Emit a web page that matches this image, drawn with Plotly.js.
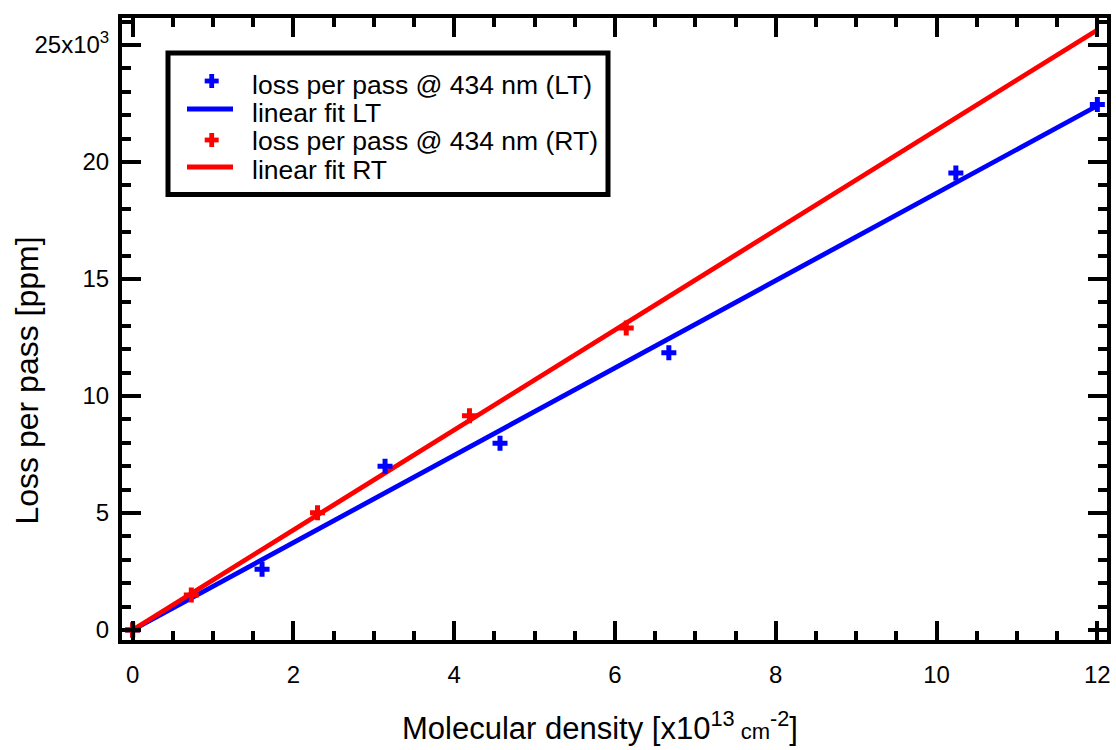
<!DOCTYPE html>
<html><head><meta charset="utf-8">
<script src="https://cdn.plot.ly/plotly-3.0.1.min.js"></script>
<style>html,body{margin:0;padding:0;background:#fff}#chart{width:1116px;height:750px}</style>
</head><body><div id="chart"></div>
<script>
// ---- data (loss in ppm, density in 1e13 cm^-2) ----
const ltDensity = [0, 1.61, 3.14, 4.57, 6.67, 10.24, 12.0];
const ltLoss    = [0, 2600, 7000, 7980, 11850, 19530, 22450];
const rtDensity = [0, 0.73, 2.30, 4.19, 6.14];
const rtLoss    = [0, 1500, 5010, 9150, 12900];
const fitDensity = [0, 12];
const fitLT = [0, 22400];
const fitRT = [0, 25640];
const yTickVals = [0, 5000, 10000, 15000, 20000, 25000];
const yTickText = ['0', '5', '10', '15', '20', '25x10<sup>3</sup>'];
const xTickVals = [0, 2, 4, 6, 8, 10, 12];
const xTickText = ['0', '2', '4', '6', '8', '10', '12'];
const legendLabels = ['loss per pass @ 434 nm (LT)', 'linear fit LT', 'loss per pass @ 434 nm (RT)', 'linear fit RT'];
const xTitle = 'Molecular density [x10<sup>13</sup><span style="font-size:22px"> cm</span><sup>-2</sup>]';
const yTitle = 'Loss per pass [ppm]';

const BLUE = '#0000ff', RED = '#ff0000';
const FONT = '"Liberation Sans", Arial, Helvetica, sans-serif';
const W = 1116, H = 750, M = {l: 122, r: 9, t: 18, b: 110};
const px = x => (x - M.l) / (W - M.l - M.r);
const py = y => (H - M.b - y) / (H - M.t - M.b);

const traces = [
  {x: fitDensity, y: fitLT, mode: 'lines', line: {color: BLUE, width: 4.8}, name: legendLabels[1]},
  {x: fitDensity, y: fitRT, mode: 'lines', line: {color: RED, width: 4.8}, name: legendLabels[3]},
  {x: ltDensity, y: ltLoss, mode: 'markers', marker: {symbol: 'cross', size: 12.5, color: BLUE}, name: legendLabels[0]},
  {x: rtDensity, y: rtLoss, mode: 'markers', marker: {symbol: 'cross', size: 12.5, color: RED}, name: legendLabels[2]}
];

const axisCommon = {
  showline: true, linecolor: 'black', linewidth: 4, mirror: 'ticks',
  ticks: 'inside', ticklen: 19, tickwidth: 4, tickcolor: 'black',
  showgrid: false, zeroline: false,
  tickfont: {family: FONT, size: 24, color: 'black'}
};

const legendShapes = [
  {type: 'rect', xref: 'paper', yref: 'paper', x0: px(168), x1: px(608), y0: py(53), y1: py(194.5),
   line: {color: 'black', width: 5}, fillcolor: 'white', layer: 'above'},
  {type: 'line', xref: 'paper', yref: 'paper', x0: px(187), x1: px(233), y0: py(109), y1: py(109),
   line: {color: BLUE, width: 5}, layer: 'above'},
  {type: 'line', xref: 'paper', yref: 'paper', x0: px(187), x1: px(233), y0: py(167), y1: py(167),
   line: {color: RED, width: 5}, layer: 'above'}
];
[[81, BLUE], [140, RED]].forEach(([yy, c]) => {
  legendShapes.push({type: 'rect', xref: 'paper', yref: 'paper', xsizemode: 'pixel', ysizemode: 'pixel',
    xanchor: px(211.7), yanchor: py(yy), x0: -7, x1: 7, y0: -2.4, y1: 2.4, fillcolor: c, line: {width: 0}, layer: 'above'});
  legendShapes.push({type: 'rect', xref: 'paper', yref: 'paper', xsizemode: 'pixel', ysizemode: 'pixel',
    xanchor: px(211.7), yanchor: py(yy), x0: -2.4, x1: 2.4, y0: -7, y1: 7, fillcolor: c, line: {width: 0}, layer: 'above'});
});

const textRows = [85, 113, 141.5, 170];
const annotations = legendLabels.map((t, i) => ({
  text: t, xref: 'paper', yref: 'paper', x: px(250), y: py(textRows[i]), xanchor: 'left', yanchor: 'middle',
  showarrow: false, font: {family: FONT, size: 26.5, color: 'black'}
}));
annotations.push({text: yTitle, xref: 'paper', yref: 'paper', x: px(26), y: py(380.5), textangle: -90,
  xanchor: 'center', yanchor: 'middle', showarrow: false, font: {family: FONT, size: 32, color: 'black'}});
annotations.push({text: xTitle, xref: 'paper', yref: 'paper', x: px(400), y: py(726), xanchor: 'left',
  yanchor: 'middle', showarrow: false, font: {family: FONT, size: 31, color: 'black'}});

const layout = {
  width: W, height: H, margin: M, paper_bgcolor: 'white', plot_bgcolor: 'white',
  showlegend: false, font: {family: FONT, color: 'black'},
  xaxis: Object.assign({}, axisCommon, {range: [-0.132, 12.12], tickvals: xTickVals, ticktext: xTickText,
    ticklabelstandoff: 10,
    minor: {dtick: 0.5, ticks: 'inside', ticklen: 9, tickwidth: 4, tickcolor: 'black', showgrid: false}}),
  yaxis: Object.assign({}, axisCommon, {range: [-427, 26150], tickvals: yTickVals, ticktext: yTickText,
    ticklabelstandoff: 4,
    minor: {dtick: 1000, ticks: 'inside', ticklen: 9, tickwidth: 4, tickcolor: 'black', showgrid: false}}),
  shapes: legendShapes,
  annotations: annotations
};

Plotly.newPlot('chart', traces, layout, {staticPlot: true, displayModeBar: false});
</script></body></html>
